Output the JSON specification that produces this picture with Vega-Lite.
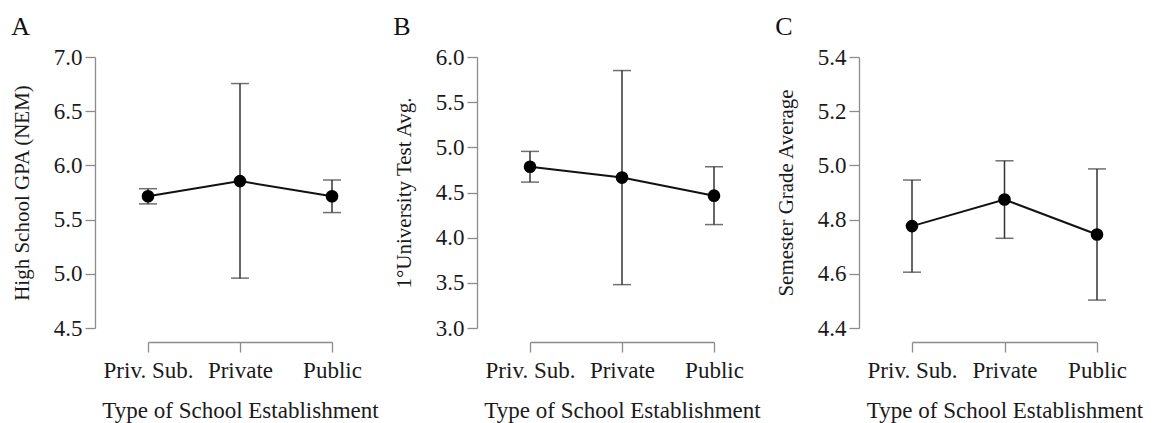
{
  "$schema": "https://vega.github.io/schema/vega-lite/v6.json",
  "background": "white",
  "padding": {"left": 11, "top": 14, "right": 5, "bottom": 5},
  "spacing": 198,
  "bounds": "flush",
  "datasets": {
    "A": [
      {"type": "Priv. Sub.", "mean": 5.715, "lo": 5.645, "hi": 5.785},
      {"type": "Private", "mean": 5.855, "lo": 4.96, "hi": 6.755},
      {"type": "Public", "mean": 5.715, "lo": 5.565, "hi": 5.865}
    ],
    "B": [
      {"type": "Priv. Sub.", "mean": 4.785, "lo": 4.615, "hi": 4.955},
      {"type": "Private", "mean": 4.665, "lo": 3.48, "hi": 5.85},
      {"type": "Public", "mean": 4.465, "lo": 4.145, "hi": 4.785}
    ],
    "C": [
      {"type": "Priv. Sub.", "mean": 4.776, "lo": 4.606, "hi": 4.946},
      {"type": "Private", "mean": 4.874, "lo": 4.731, "hi": 5.017},
      {"type": "Public", "mean": 4.745, "lo": 4.503, "hi": 4.987}
    ]
  },
  "config": {
    "view": {"stroke": null},
    "font": "Liberation Serif",
    "axis": {
      "grid": false,
      "domainColor": "#8c8c8c",
      "domainWidth": 1.3,
      "tickColor": "#8c8c8c",
      "tickWidth": 1.3,
      "tickSize": 10,
      "labelFont": "Liberation Serif",
      "labelFontSize": 23,
      "labelColor": "#1a1a1a",
      "titleFont": "Liberation Serif",
      "titleFontSize": 23,
      "titleFontWeight": "normal",
      "titleColor": "#1a1a1a"
    },
    "axisY": {"titleFontSize": 21},
    "title": {"font": "Liberation Serif", "fontSize": 26, "fontWeight": "normal", "color": "#111111", "anchor": "start", "frame": "bounds", "offset": 6}
  },
  "hconcat": [
    {
      "title": "A",
      "width": 184,
      "height": 271,
      "data": {"name": "A"},
      "encoding": {
        "x": {"field": "type", "type": "nominal", "sort": ["Priv. Sub.", "Private", "Public"],
          "scale": {"type": "point", "padding": 0},
          "axis": {"title": "Type of School Establishment", "labelAngle": 0, "offset": 14, "labelPadding": 7, "titlePadding": 17}}
      },
      "layer": [
        {"mark": {"type": "rule", "color": "#333333", "strokeWidth": 1.5},
         "encoding": {"y": {"field": "lo", "type": "quantitative", "scale": {"domain": [4.5, 7.0], "nice": false, "zero": false},
            "axis": {"title": "High School GPA (NEM)", "values": [4.5, 5.0, 5.5, 6.0, 6.5, 7.0], "format": ".1f", "offset": 53, "labelPadding": 3, "titlePadding": 21}},
           "y2": {"field": "hi"}}},
        {"mark": {"type": "tick", "orient": "horizontal", "color": "#333333", "thickness": 1.5, "size": 18}, "encoding": {"y": {"field": "lo", "type": "quantitative"}}},
        {"mark": {"type": "tick", "orient": "horizontal", "color": "#333333", "thickness": 1.5, "size": 18}, "encoding": {"y": {"field": "hi", "type": "quantitative"}}},
        {"mark": {"type": "line", "color": "#111111", "strokeWidth": 2}, "encoding": {"y": {"field": "mean", "type": "quantitative"}}},
        {"mark": {"type": "point", "filled": true, "color": "#000000", "opacity": 1, "size": 160}, "encoding": {"y": {"field": "mean", "type": "quantitative"}}}
      ]
    },
    {
      "title": "B",
      "width": 184,
      "height": 271,
      "data": {"name": "B"},
      "encoding": {
        "x": {"field": "type", "type": "nominal", "sort": ["Priv. Sub.", "Private", "Public"],
          "scale": {"type": "point", "padding": 0},
          "axis": {"title": "Type of School Establishment", "labelAngle": 0, "offset": 14, "labelPadding": 7, "titlePadding": 17}}
      },
      "layer": [
        {"mark": {"type": "rule", "color": "#333333", "strokeWidth": 1.5},
         "encoding": {"y": {"field": "lo", "type": "quantitative", "scale": {"domain": [3.0, 6.0], "nice": false, "zero": false},
            "axis": {"title": "1°University Test Avg.", "values": [3.0, 3.5, 4.0, 4.5, 5.0, 5.5, 6.0], "format": ".1f", "offset": 53, "labelPadding": 3, "titlePadding": 21}},
           "y2": {"field": "hi"}}},
        {"mark": {"type": "tick", "orient": "horizontal", "color": "#333333", "thickness": 1.5, "size": 18}, "encoding": {"y": {"field": "lo", "type": "quantitative"}}},
        {"mark": {"type": "tick", "orient": "horizontal", "color": "#333333", "thickness": 1.5, "size": 18}, "encoding": {"y": {"field": "hi", "type": "quantitative"}}},
        {"mark": {"type": "line", "color": "#111111", "strokeWidth": 2}, "encoding": {"y": {"field": "mean", "type": "quantitative"}}},
        {"mark": {"type": "point", "filled": true, "color": "#000000", "opacity": 1, "size": 160}, "encoding": {"y": {"field": "mean", "type": "quantitative"}}}
      ]
    },
    {
      "title": "C",
      "width": 185,
      "height": 271,
      "data": {"name": "C"},
      "encoding": {
        "x": {"field": "type", "type": "nominal", "sort": ["Priv. Sub.", "Private", "Public"],
          "scale": {"type": "point", "padding": 0},
          "axis": {"title": "Type of School Establishment", "labelAngle": 0, "offset": 14, "labelPadding": 7, "titlePadding": 17}}
      },
      "layer": [
        {"mark": {"type": "rule", "color": "#333333", "strokeWidth": 1.5},
         "encoding": {"y": {"field": "lo", "type": "quantitative", "scale": {"domain": [4.4, 5.4], "nice": false, "zero": false},
            "axis": {"title": "Semester Grade Average", "values": [4.4, 4.6, 4.8, 5.0, 5.2, 5.4], "format": ".1f", "offset": 53, "labelPadding": 3, "titlePadding": 21}},
           "y2": {"field": "hi"}}},
        {"mark": {"type": "tick", "orient": "horizontal", "color": "#333333", "thickness": 1.5, "size": 18}, "encoding": {"y": {"field": "lo", "type": "quantitative"}}},
        {"mark": {"type": "tick", "orient": "horizontal", "color": "#333333", "thickness": 1.5, "size": 18}, "encoding": {"y": {"field": "hi", "type": "quantitative"}}},
        {"mark": {"type": "line", "color": "#111111", "strokeWidth": 2}, "encoding": {"y": {"field": "mean", "type": "quantitative"}}},
        {"mark": {"type": "point", "filled": true, "color": "#000000", "opacity": 1, "size": 160}, "encoding": {"y": {"field": "mean", "type": "quantitative"}}}
      ]
    }
  ]
}
